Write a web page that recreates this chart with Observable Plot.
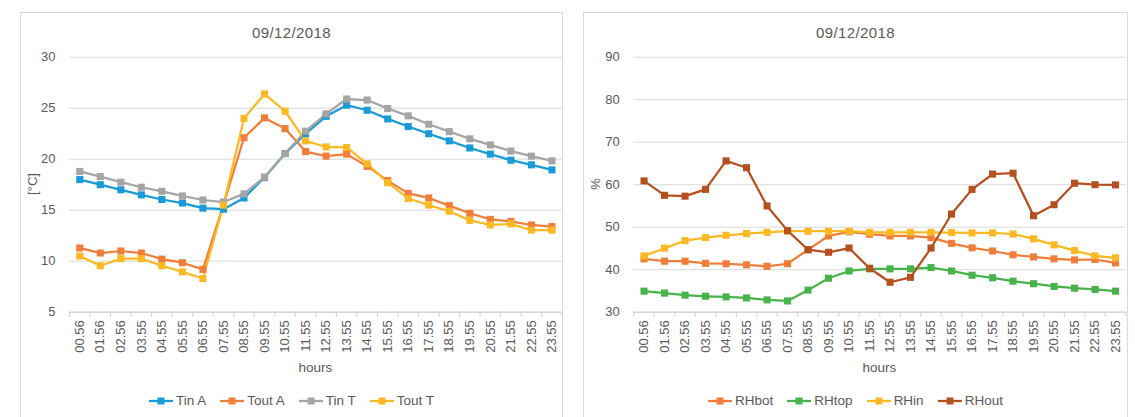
<!DOCTYPE html>
<html><head><meta charset="utf-8">
<script src="https://cdn.jsdelivr.net/npm/d3@7"></script>
<script src="https://cdn.jsdelivr.net/npm/@observablehq/plot@0.6"></script>
<style>
body{margin:0;background:#fff;font-family:"Liberation Sans",Arial,sans-serif;color:#595959}
#root{position:relative;width:1135px;height:417px;overflow:hidden;background:#fff}
.abs{position:absolute}
.panel{position:absolute;top:12px;height:430px;border:1px solid #d9d9d9;box-sizing:border-box}
.title{position:absolute;text-align:center;font-size:15px;line-height:16px;letter-spacing:0.4px;color:#595959}
.xlab{position:absolute;text-align:center;font-size:13.5px;line-height:15px}
.ylab{position:absolute;font-size:13px;line-height:15px;transform:translate(-50%,-50%) rotate(-90deg);white-space:nowrap}
.legend{position:absolute;display:flex;justify-content:center;font-size:13.5px;line-height:15px;gap:14px}
.item{display:flex;align-items:center;gap:3px}
svg{overflow:visible}
</style></head><body><div id="root"></div>
<script>
const hours = ["00.56","01.56","02.56","03.55","04.55","05.55","06.55","07.55","08.55","09.55","10.55","11.55","12.55","13.55","14.55","15.55","16.55","17.55","18.55","19.55","20.55","21.55","22.55","23.55"];
const tinA  = [18.0,17.5,17.0,16.5,16.05,15.7,15.2,15.1,16.2,18.2,20.55,22.5,24.2,25.3,24.8,23.95,23.2,22.5,21.8,21.1,20.5,19.9,19.45,18.95];
const toutA = [11.3,10.8,11.0,10.8,10.2,9.85,9.2,15.55,22.1,24.05,23.0,20.75,20.3,20.5,19.3,17.9,16.65,16.2,15.45,14.7,14.1,13.9,13.55,13.4];
const tinT  = [18.8,18.3,17.75,17.25,16.85,16.4,16.0,15.8,16.6,18.25,20.55,22.75,24.45,25.9,25.8,24.97,24.25,23.43,22.7,22.0,21.4,20.8,20.3,19.84];
const toutT = [10.5,9.55,10.25,10.25,9.55,8.95,8.3,15.5,24.0,26.4,24.7,21.8,21.2,21.15,19.55,17.7,16.15,15.5,14.9,14.0,13.55,13.65,13.05,13.05];
const rhBot = [42.55,42.0,42.0,41.5,41.4,41.15,40.8,41.4,44.7,47.95,48.9,48.35,47.95,47.95,47.55,46.2,45.15,44.4,43.5,43.0,42.55,42.3,42.4,41.6];
const rhTop = [34.95,34.5,34.0,33.75,33.6,33.35,32.9,32.65,35.2,38.0,39.7,40.2,40.2,40.2,40.5,39.7,38.7,38.1,37.3,36.7,36.05,35.65,35.35,34.95];
const rhIn  = [43.25,45.05,46.85,47.55,48.1,48.5,48.8,49.05,49.05,49.05,49.05,48.8,48.8,48.8,48.8,48.75,48.65,48.65,48.4,47.25,45.85,44.5,43.25,42.8];
const rhOut = [60.9,57.5,57.3,58.9,65.6,64.0,55.0,49.2,44.7,44.1,45.1,40.35,37.05,38.2,45.1,53.1,58.9,62.5,62.7,52.7,55.3,60.35,60.0,59.95];
const tempNames = ["Tin A","Tout A","Tin T","Tout T"];
const tempColors = ["#1a9bd7","#f07d3a","#a5a5a5","#fdb924"];
const rhNames = ["RHbot","RHtop","RHin","RHout"];
const rhColors = ["#f07d3a","#48b34a","#fdb924","#b5501f"];
const tempTicks = [5,10,15,20,25,30];
const rhTicks = [30,40,50,60,70,80,90];
const title = "09/12/2018";

const root = document.getElementById("root");
function el(cls, css, html){const d=document.createElement("div");d.className=cls;Object.assign(d.style,css);if(html!=null)d.innerHTML=html;root.appendChild(d);return d;}

function panel(cfg){
  el("panel",{left:cfg.pl+"px",width:cfg.pw+"px"});
  el("title",{left:cfg.pl+"px",width:cfg.pw+"px",top:"25px"},title);
  const rows=[];
  cfg.series.forEach((s,k)=>s.forEach((v,i)=>rows.push({i,v,s:cfg.names[k]})));
  const bounds=d3.range(-0.5,hours.length,1);
  const chart=Plot.plot({
    width:cfg.w,height:340,
    marginLeft:cfg.ml,marginRight:cfg.mr,marginTop:16.7,marginBottom:68.3,
    style:{fontFamily:"Liberation Sans, Arial, sans-serif",fontSize:"13px",color:"#595959",background:"transparent"},
    x:{type:"linear",domain:[-0.5,hours.length-0.5]},
    y:{domain:cfg.ydom},
    color:{domain:cfg.names,range:cfg.colors},
    marks:[
      Plot.gridY(cfg.ticks,{stroke:"#d9d9d9",strokeOpacity:1,strokeWidth:1}),
      Plot.ruleY([cfg.ydom[0]],{stroke:"#d0d0d0",strokeWidth:1}),
      Plot.axisY({ticks:cfg.ticks,tickSize:0,tickPadding:14,label:null,fill:"#595959"}),
      Plot.axisX({ticks:bounds,tickSize:5,tickFormat:()=>"",label:null,stroke:"#d0d0d0"}),
      Plot.axisX({ticks:d3.range(hours.length),tickSize:0,tickPadding:8,tickRotate:-90,tickFormat:i=>hours[i],label:null,fill:"#595959"}),
      Plot.line(rows,{x:"i",y:"v",z:"s",stroke:"s",strokeWidth:2.25,curve:"linear"}),
      Plot.dot(rows,{x:"i",y:"v",fill:"s",symbol:"square",r:4})
    ]
  });
  chart.style.position="absolute";chart.style.left=cfg.sl+"px";chart.style.top="40px";
  root.appendChild(chart);
  el("xlab",{left:cfg.sl+cfg.ml+"px",width:(cfg.w-cfg.ml-cfg.mr)+"px",top:"360px"},"hours");
  el("ylab",{left:cfg.yx+"px",top:"184px"},cfg.ylabel);
  const lg=el("legend",{left:cfg.pl+"px",width:cfg.pw+"px",top:"393px"});
  cfg.names.forEach((n,k)=>{
    const it=document.createElement("div");it.className="item";
    it.innerHTML=`<svg width="24" height="8"><line x1="0" x2="24" y1="4" y2="4" stroke="${cfg.colors[k]}" stroke-width="2.25"/><rect x="8.5" y="0.5" width="7" height="7" fill="${cfg.colors[k]}"/></svg><span>${n}</span>`;
    lg.appendChild(it);
  });
}

panel({pl:20,pw:543,sl:20,w:543,ml:49,mr:1.3,ydom:[5,30],ticks:tempTicks,names:tempNames,colors:tempColors,series:[tinA,toutA,tinT,toutT],ylabel:"[°C]",yx:32});
panel({pl:583,pw:545,sl:583,w:545,ml:50.3,mr:2.7,ydom:[30,90],ticks:rhTicks,names:rhNames,colors:rhColors,series:[rhBot,rhTop,rhIn,rhOut],ylabel:"%",yx:595});
</script></body></html>
